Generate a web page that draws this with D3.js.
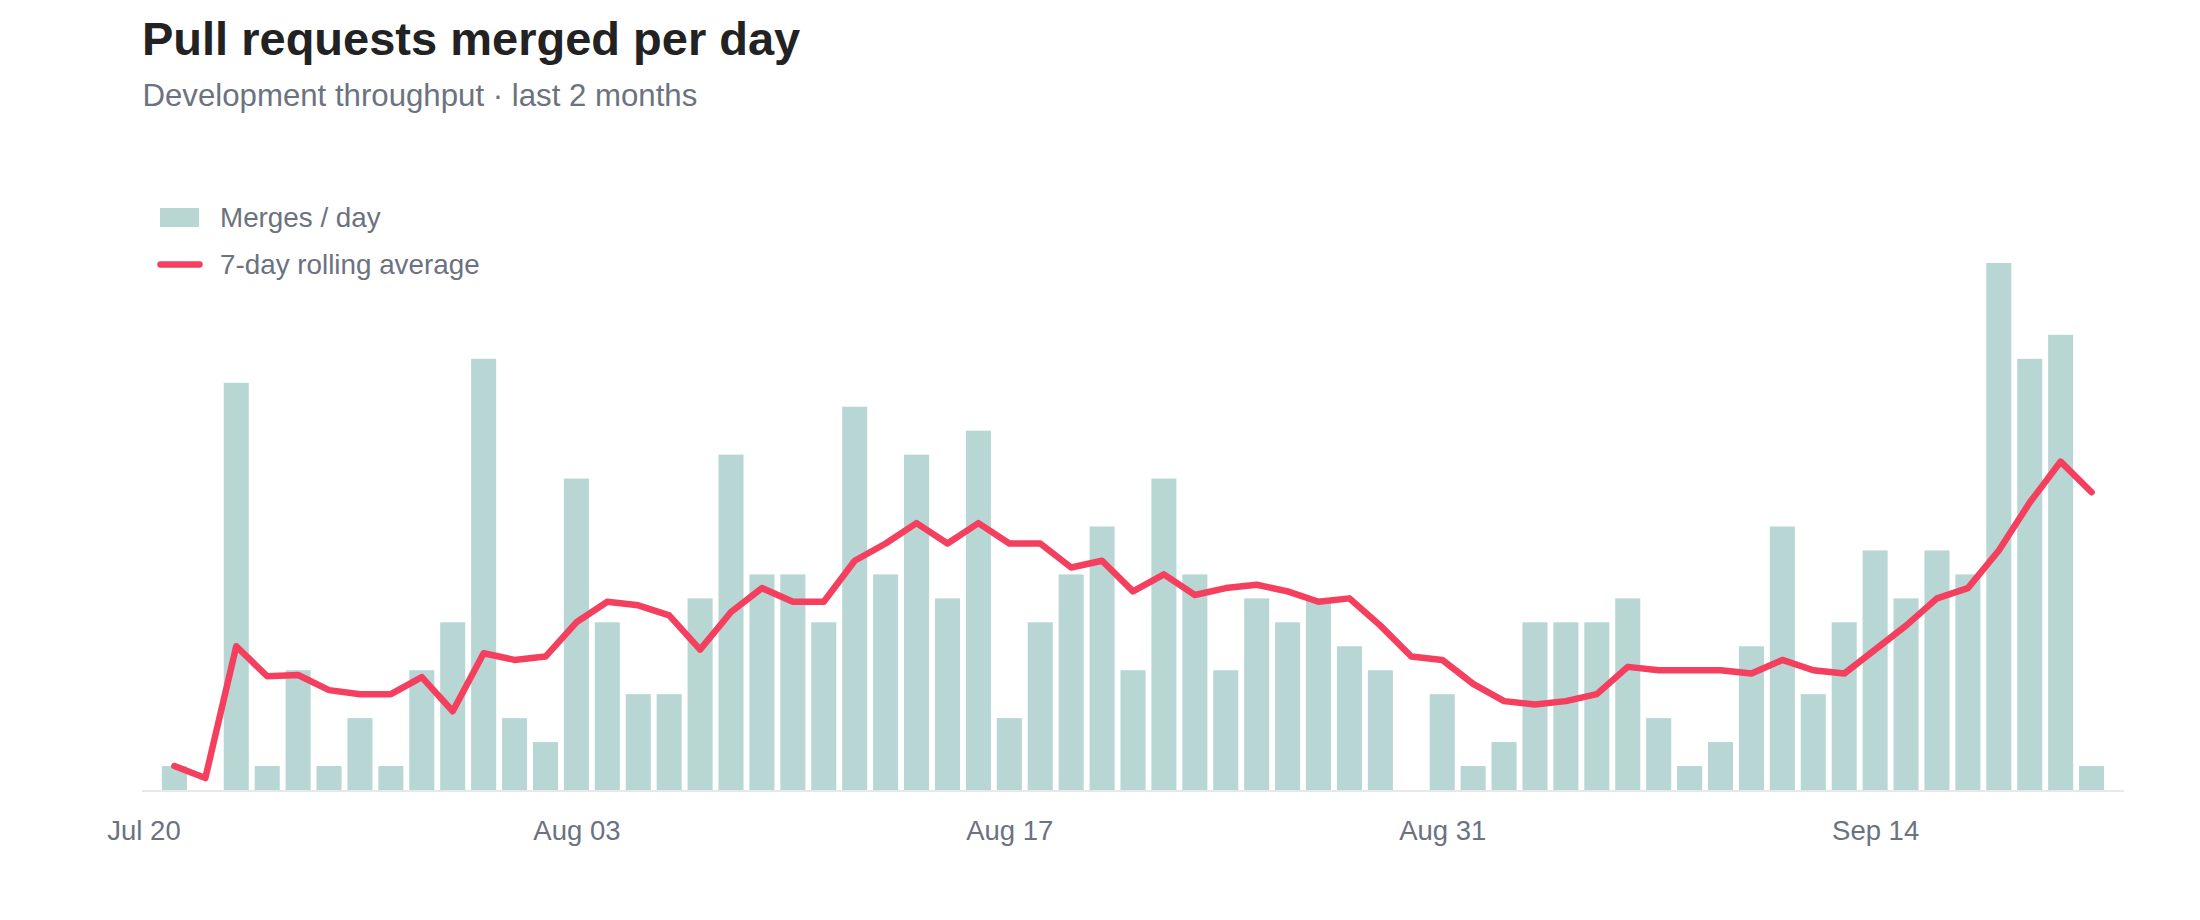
<!DOCTYPE html>
<html>
<head>
<meta charset="utf-8">
<script src="https://cdn.jsdelivr.net/npm/d3@7"></script>
<style>
  html, body { margin: 0; padding: 0; background: #ffffff; }
  svg { display: block; font-family: "Liberation Sans", Helvetica, Arial, sans-serif; }
</style>
</head>
<body>
<svg id="chart" width="2200" height="920"></svg>
<script>
// ---------------- data ----------------
const dates = [
  "2024-07-21","2024-07-22","2024-07-23","2024-07-24","2024-07-25","2024-07-26","2024-07-27",
  "2024-07-28","2024-07-29","2024-07-30","2024-07-31","2024-08-01","2024-08-02","2024-08-03",
  "2024-08-04","2024-08-05","2024-08-06","2024-08-07","2024-08-08","2024-08-09","2024-08-10",
  "2024-08-11","2024-08-12","2024-08-13","2024-08-14","2024-08-15","2024-08-16","2024-08-17",
  "2024-08-18","2024-08-19","2024-08-20","2024-08-21","2024-08-22","2024-08-23","2024-08-24",
  "2024-08-25","2024-08-26","2024-08-27","2024-08-28","2024-08-29","2024-08-30","2024-08-31",
  "2024-09-01","2024-09-02","2024-09-03","2024-09-04","2024-09-05","2024-09-06","2024-09-07",
  "2024-09-08","2024-09-09","2024-09-10","2024-09-11","2024-09-12","2024-09-13","2024-09-14",
  "2024-09-15","2024-09-16","2024-09-17","2024-09-18","2024-09-19","2024-09-20","2024-09-21"
];
const merges = [
  1, 0, 17, 1, 5, 1, 3,
  1, 5, 7, 18, 3, 2, 13,
  7, 4, 4, 8, 14, 9, 9,
  7, 16, 9, 14, 8, 15, 3,
  7, 9, 11, 5, 13, 9, 5,
  8, 7, 8, 6, 5, 0, 4,
  1, 2, 7, 7, 7, 8, 3,
  1, 2, 6, 11, 4, 7, 10,
  8, 10, 9, 22, 18, 19, 1
];
const rolling = [
  1.00, 0.50, 6.00, 4.75, 4.80, 4.17, 4.00,
  4.00, 4.71, 3.29, 5.71, 5.43, 5.57, 7.00,
  7.86, 7.71, 7.29, 5.86, 7.43, 8.43, 7.86,
  7.86, 9.57, 10.29, 11.14, 10.29, 11.14, 10.29,
  10.29, 9.29, 9.57, 8.29, 9.00, 8.14, 8.43,
  8.57, 8.29, 7.86, 8.00, 6.86, 5.57, 5.43,
  4.43, 3.71, 3.57, 3.71, 4.00, 5.14, 5.00,
  5.00, 5.00, 4.86, 5.43, 5.00, 4.86, 5.86,
  6.86, 8.00, 8.43, 10.00, 12.00, 13.71, 12.43
];
const tickDates = ["2024-07-20","2024-08-03","2024-08-17","2024-08-31","2024-09-14"];
const title = "Pull requests merged per day";
const subtitle = "Development throughput \u00b7 last 2 months";
const legendLabels = ["Merges / day", "7-day rolling average"];

// ---------------- setup ----------------
const parse = d3.utcParse("%Y-%m-%d");
const rows = dates.map((d, i) => ({ date: parse(d), merges: merges[i], avg: rolling[i] }));

const colors = { bar: "#b7d6d4", line: "#f43f5e", text: "#6b7280", title: "#222222", axis: "#e8e8e8" };
const plot = { left: 143.5, right: 2122.5, top: 263, bottom: 790 };

const x = d3.scaleUtc()
  .domain([d3.utcDay.offset(rows[0].date, -1), d3.utcDay.offset(rows[rows.length - 1].date, 1)])
  .range([plot.left, plot.right]);
const y = d3.scaleLinear()
  .domain([0, d3.max(merges)])
  .range([plot.bottom, plot.top]);

const dayW = x(d3.utcDay.offset(rows[0].date, 1)) - x(rows[0].date);
const barW = dayW * 0.81;

const svg = d3.select("#chart");

// title
svg.append("text")
  .attr("x", 142).attr("y", 55)
  .attr("fill", colors.title)
  .attr("font-size", 47).attr("font-weight", 700)
  .text(title);
svg.append("text")
  .attr("x", 142.5).attr("y", 106)
  .attr("fill", colors.text)
  .attr("font-size", 31.2)
  .text(subtitle);

// bars
svg.append("g").selectAll("rect")
  .data(rows)
  .join("rect")
  .attr("x", d => x(d.date) - barW / 2)
  .attr("width", barW)
  .attr("y", d => y(d.merges))
  .attr("height", d => y(0) - y(d.merges))
  .attr("fill", colors.bar);

// axis
const axis = svg.append("g")
  .attr("transform", `translate(0,${plot.bottom + 1})`)
  .call(d3.axisBottom(x)
    .tickValues(tickDates.map(parse))
    .tickFormat(d3.utcFormat("%b %d"))
    .tickSize(0)
    .tickPadding(29));
axis.select(".domain")
  .attr("stroke", colors.axis)
  .attr("stroke-width", 2)
  .attr("d", `M${plot.left - 1.5},0H${plot.right + 1.5}`);
axis.selectAll(".tick text")
  .attr("fill", colors.text)
  .attr("font-size", 27.5)
  .attr("font-family", "\"Liberation Sans\", Helvetica, Arial, sans-serif");

// rolling average line
const line = d3.line()
  .x(d => x(d.date))
  .y(d => y(d.avg));
svg.append("path")
  .datum(rows)
  .attr("d", line)
  .attr("fill", "none")
  .attr("stroke", colors.line)
  .attr("stroke-width", 6.5)
  .attr("stroke-linejoin", "round")
  .attr("stroke-linecap", "round");

// legend
const lg = svg.append("g");
lg.append("rect")
  .attr("x", 160).attr("y", 208).attr("width", 39).attr("height", 19)
  .attr("fill", colors.bar);
lg.append("line")
  .attr("x1", 160.5).attr("x2", 199.5).attr("y1", 264.5).attr("y2", 264.5)
  .attr("stroke", colors.line).attr("stroke-width", 6.5).attr("stroke-linecap", "round");
lg.selectAll("text.lbl")
  .data(legendLabels)
  .join("text")
  .attr("class", "lbl")
  .attr("x", 220)
  .attr("y", (d, i) => [227, 273.5][i])
  .attr("fill", colors.text)
  .attr("font-size", 27.8)
  .text(d => d);
</script>
</body>
</html>
